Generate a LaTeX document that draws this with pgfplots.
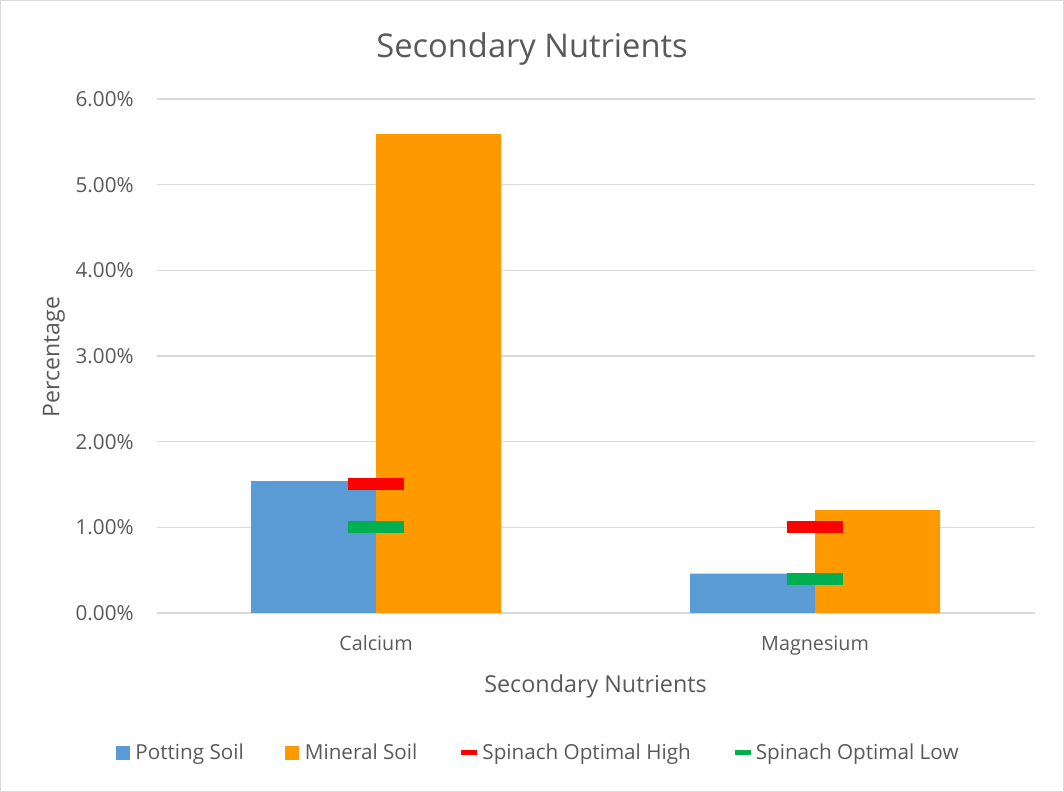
\documentclass[border=0pt]{standalone}
\usepackage{fontspec}
\setmainfont{Open Sans}
\usepackage{pgfplots}
\pgfplotsset{compat=1.18}
\definecolor{potting}{HTML}{5B9BD5}
\definecolor{mineral}{HTML}{FF9900}
\definecolor{high}{HTML}{FF0000}
\definecolor{low}{HTML}{00B050}
\definecolor{txt}{HTML}{595959}
\definecolor{grd}{HTML}{D9D9D9}
\begin{document}
\begin{tikzpicture}
\path[use as bounding box] (0,0) rectangle (798pt,594pt);
\draw[grd, line width=0.75pt] (0.4pt,0.4pt) rectangle (797.6pt,593.6pt);
\begin{axis}[
  at={(117.4pt,134.25pt)}, anchor=south west,
  scale only axis, width=658.5pt, height=385.5pt,
  xmin=-0.5, xmax=1.5, ymin=0, ymax=0.06,
  scaled y ticks=false,
  axis line style={draw=none},
  tick style={draw=none},
  xtick={0,1}, xticklabels={Calcium,Magnesium},
  ytick={0,0.01,0.02,0.03,0.04,0.05,0.06},
  yticklabels={0.00\%,1.00\%,2.00\%,3.00\%,4.00\%,5.00\%,6.00\%},
  ymajorgrids, major grid style={grd, line width=0.9pt},
  /pgf/number format/assume math mode=true,
  ticklabel style={text=txt, inner sep=0pt},
  xticklabel style={anchor=base, yshift=-28.5pt, font=\fontsize{14.8}{17}\selectfont},
  yticklabel style={anchor=east, xshift=-17pt, font=\fontsize{15.5}{18}\selectfont},
  title={Secondary Nutrients},
  title style={at={(axis description cs:0.4277,1.082)}, anchor=center, font=\fontsize{24.5}{28}\selectfont, text=txt},
  xlabel={Secondary Nutrients},
  xlabel style={at={(axis description cs:0.5,-0.142)}, anchor=center, font=\fontsize{17.5}{20}\selectfont, text=txt},
  ylabel={Percentage},
  ylabel style={at={(axis description cs:-0.117,0.498)}, anchor=center, font=\fontsize{17.3}{20}\selectfont, text=txt},
  legend columns=4,
  legend style={at={(axis description cs:0.435,-0.272)}, anchor=center, draw=none, fill=none,
    font=\fontsize{15.5}{18}\selectfont, text=txt,
    /tikz/every even column/.append style={column sep=29pt}},
]
\addplot[ybar, bar width=0.2847, bar shift=-0.14235, fill=potting, draw=none,
  legend image code/.code={\fill[potting] (0pt,-5.25pt) rectangle (10.5pt,5.25pt); \path (12.8pt,0pt);}]
  coordinates {(0,0.0154) (1,0.0046)};
\addlegendentry{Potting Soil}
\addplot[ybar, bar width=0.2847, bar shift=0.14235, fill=mineral, draw=none,
  legend image code/.code={\fill[mineral] (0pt,-5.25pt) rectangle (10.5pt,5.25pt); \path (12.8pt,0pt);}]
  coordinates {(0,0.0559) (1,0.0120)};
\addlegendentry{Mineral Soil}
\addplot[only marks, mark=-, mark size=20.7pt, mark options={draw=high, line width=9pt},
  legend image code/.code={\draw[high, line width=3.75pt] (0pt,0pt) -- (12pt,0pt); \path (13.5pt,0pt);}]
  coordinates {(0,0.0150) (1,0.0100)};
\addlegendentry{Spinach Optimal High}
\addplot[only marks, mark=-, mark size=20.7pt, mark options={draw=low, line width=9pt},
  legend image code/.code={\draw[low, line width=3.75pt] (0pt,0pt) -- (12pt,0pt); \path (13.5pt,0pt);}]
  coordinates {(0,0.0100) (1,0.0040)};
\addlegendentry{Spinach Optimal Low}
\end{axis}
\end{tikzpicture}
\end{document}
